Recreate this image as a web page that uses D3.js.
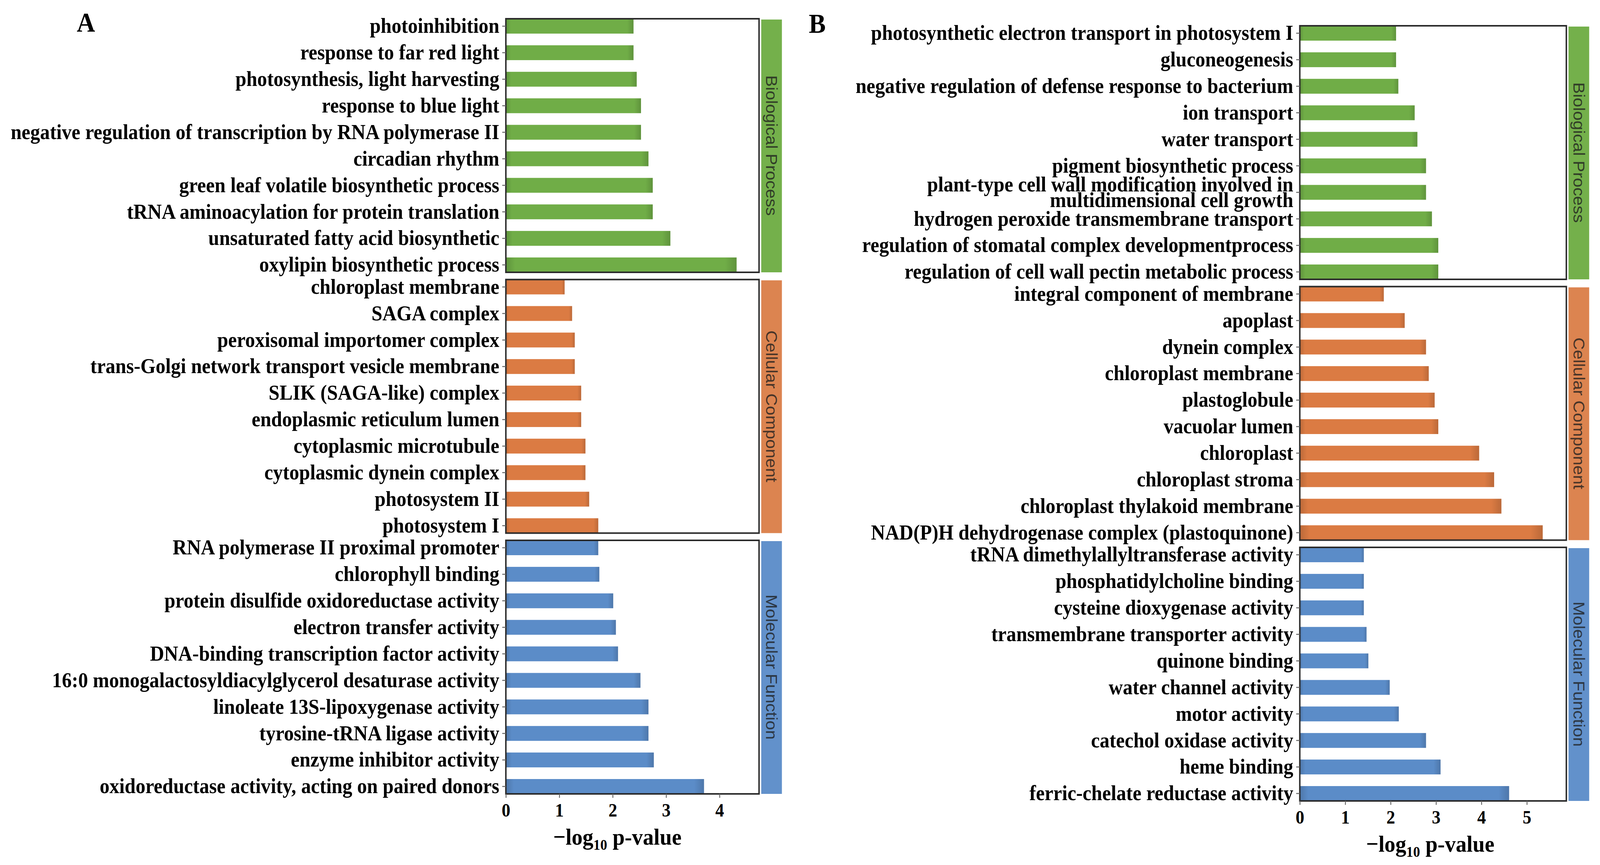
<!DOCTYPE html>
<html>
<head>
<meta charset="utf-8">
<script src="https://cdn.jsdelivr.net/npm/d3@7"></script>
<style>
  html, body { margin: 0; padding: 0; background: #fff; overflow: hidden; }
  #chart svg { display: block; width: 100vw; height: 100vh; }
  svg text { font-family: "Liberation Serif", "Times New Roman", serif; font-weight: bold; }
</style>
</head>
<body>
<div id="chart"></div>
<script>
// ---- data, panel A ----
const aBPTerms = ["photoinhibition", "response to far red light", "photosynthesis, light harvesting",
  "response to blue light", "negative regulation of transcription by RNA polymerase II", "circadian rhythm",
  "green leaf volatile biosynthetic process", "tRNA aminoacylation for protein translation",
  "unsaturated fatty acid biosynthetic", "oxylipin biosynthetic process"];
const aBPValues = [2.39, 2.39, 2.45, 2.53, 2.53, 2.67, 2.75, 2.75, 3.08, 4.32];

const aCCTerms = ["chloroplast membrane", "SAGA complex", "peroxisomal importomer complex",
  "trans-Golgi network transport vesicle membrane", "SLIK (SAGA-like) complex", "endoplasmic reticulum lumen",
  "cytoplasmic microtubule", "cytoplasmic dynein complex", "photosystem II", "photosystem I"];
const aCCValues = [1.10, 1.24, 1.29, 1.29, 1.41, 1.41, 1.49, 1.49, 1.56, 1.73];

const aMFTerms = ["RNA polymerase II proximal promoter", "chlorophyll binding", "protein disulfide oxidoreductase activity",
  "electron transfer activity", "DNA-binding transcription factor activity",
  "16:0 monogalactosyldiacylglycerol desaturase activity", "linoleate 13S-lipoxygenase activity",
  "tyrosine-tRNA ligase activity", "enzyme inhibitor activity", "oxidoreductase activity, acting on paired donors"];
const aMFValues = [1.73, 1.75, 2.01, 2.06, 2.10, 2.52, 2.67, 2.67, 2.77, 3.71];

// ---- data, panel B ----
const bBPTerms = ["photosynthetic electron transport in photosystem I", "gluconeogenesis",
  "negative regulation of defense response to bacterium", "ion transport", "water transport",
  "pigment biosynthetic process", "plant-type cell wall modification involved in\nmultidimensional cell growth",
  "hydrogen peroxide transmembrane transport", "regulation of stomatal complex developmentprocess",
  "regulation of cell wall pectin metabolic process"];
const bBPValues = [2.12, 2.12, 2.17, 2.53, 2.59, 2.78, 2.78, 2.91, 3.05, 3.05];

const bCCTerms = ["integral component of membrane", "apoplast", "dynein complex", "chloroplast membrane",
  "plastoglobule", "vacuolar lumen", "chloroplast", "chloroplast stroma", "chloroplast thylakoid membrane",
  "NAD(P)H dehydrogenase complex (plastoquinone)"];
const bCCValues = [1.85, 2.31, 2.78, 2.84, 2.97, 3.05, 3.95, 4.28, 4.44, 5.35];

const bMFTerms = ["tRNA dimethylallyltransferase activity", "phosphatidylcholine binding",
  "cysteine dioxygenase activity", "transmembrane transporter activity", "quinone binding",
  "water channel activity", "motor activity", "catechol oxidase activity", "heme binding",
  "ferric-chelate reductase activity"];
const bMFValues = [1.41, 1.41, 1.41, 1.47, 1.51, 1.98, 2.18, 2.78, 3.10, 4.61];

const ontologyNames = ["Biological Process", "Cellular Component", "Molecular Function"];
const aTicks = [0, 1, 2, 3, 4];
const bTicks = [0, 1, 2, 3, 4, 5];

// colours for the three ontologies (bars and strips)
const barColors = ["#70ad47", "#db7b43", "#5b8cc8"];
const stripColors = ["#74b04b", "#dc8450", "#6291cb"];

const W = 4411, H = 2214;
const facetH = 649, facetGap = 18.5;

// viewBox so the drawing always fills the window whatever its css size
const svg = d3.select("#chart").append("svg")
  .attr("viewBox", `0 0 ${W} ${H}`)
  .attr("preserveAspectRatio", "none")
  .style("background", "#fff");

// soft darker ends on the bars, like the original export
const defs = svg.append("defs");
barColors.forEach((c, i) => {
  const dark = d3.color(c).darker(0.45);
  const grad = defs.append("linearGradient").attr("id", "barGrad" + i)
    .attr("x1", 0).attr("x2", 1).attr("y1", 0).attr("y2", 0);
  grad.append("stop").attr("offset", "0%").attr("stop-color", dark);
  grad.append("stop").attr("offset", "4%").attr("stop-color", c);
  grad.append("stop").attr("offset", "95%").attr("stop-color", c);
  grad.append("stop").attr("offset", "100%").attr("stop-color", dark);
});

function drawPanel(p) {
  const g = svg.append("g");
  const x = d3.scaleLinear().domain([0, p.xMax]).range([p.left, p.right]);
  let bottom = 0;

  p.facets.forEach((f, i) => {
    const top = p.top + i * (facetH + facetGap);
    bottom = top + facetH;
    const y = d3.scaleBand().domain(f.terms).range([top, bottom])
      .paddingInner(0.44).paddingOuter(0);
    const rows = f.terms.map((t, j) => ({ term: t, value: f.values[j] }));

    g.append("g").selectAll("rect")
      .data(rows)
      .join("rect")
      .attr("x", x(0))
      .attr("y", d => y(d.term))
      .attr("width", d => x(d.value) - x(0))
      .attr("height", y.bandwidth())
      .attr("fill", `url(#barGrad${i})`);

    // panel frame
    g.append("rect")
      .attr("x", p.left).attr("y", top)
      .attr("width", p.right - p.left).attr("height", facetH)
      .attr("fill", "none").attr("stroke", "#2b2b2b").attr("stroke-width", 4);

    // category labels
    const ax = g.append("g")
      .attr("transform", `translate(${p.left},0)`)
      .call(d3.axisLeft(y).tickSize(10).tickPadding(8));
    ax.select(".domain").remove();
    ax.attr("font-size", 54).attr("font-family", null);
    ax.selectAll(".tick line").attr("stroke", "#666").attr("stroke-width", 2.5);
    ax.selectAll(".tick text").attr("fill", "#000").each(function (d) {
      const lines = d.split("\n");
      if (lines.length < 2) return;
      const t = d3.select(this);
      const tx = t.attr("x");
      t.text(null).attr("dy", null);
      lines.forEach((ln, k) => {
        t.append("tspan").attr("x", tx)
          .attr("dy", k === 0 ? (0.32 - (lines.length - 1) * 0.37) + "em" : "0.74em")
          .text(ln);
      });
    });

    // side strip with ontology name
    const sx = p.right + 6, sw = 57;
    g.append("rect")
      .attr("x", sx).attr("y", top + 2)
      .attr("width", sw).attr("height", facetH - 2)
      .attr("fill", stripColors[i]);
    g.append("text")
      .attr("transform", `translate(${sx + sw / 2},${top + facetH / 2}) rotate(90)`)
      .attr("text-anchor", "middle")
      .attr("dy", "0.35em")
      .style("font-family", "'Liberation Sans', Arial, sans-serif")
      .style("font-weight", "normal")
      .style("font-size", "44px")
      .attr("fill", "#1e1e1e")
      .attr("fill-opacity", 0.8)
      .text(ontologyNames[i]);
  });

  // value axis
  const xa = g.append("g")
    .attr("transform", `translate(0,${bottom})`)
    .call(d3.axisBottom(x).tickValues(p.ticks).tickFormat(d3.format("d")).tickSize(10).tickPadding(14));
  xa.select(".domain").remove();
  xa.attr("font-size", 48).attr("font-family", null);
  xa.selectAll(".tick line").attr("stroke", "#666").attr("stroke-width", 2.5);
  xa.selectAll(".tick text").attr("fill", "#000");

  const title = g.append("text")
    .attr("x", p.titleX).attr("y", bottom + 130)
    .attr("text-anchor", "middle")
    .style("font-size", "60px");
  title.append("tspan").text("\u2212log");
  title.append("tspan").attr("dy", 13).style("font-size", "38px").text("10");
  title.append("tspan").attr("dy", -13).text(" p-value");

  svg.append("text")
    .attr("x", p.letterX).attr("y", p.letterY)
    .attr("text-anchor", "middle")
    .style("font-size", "70px")
    .text(p.letter);
}

drawPanel({
  letter: "A", letterX: 237, letterY: 81,
  left: 1394.6, right: 2092.6, top: 48, xMax: 4.74, ticks: aTicks, titleX: 1702,
  facets: [
    { terms: aBPTerms, values: aBPValues },
    { terms: aCCTerms, values: aCCValues },
    { terms: aMFTerms, values: aMFValues }
  ]
});

drawPanel({
  letter: "B", letterX: 2253, letterY: 84,
  left: 3583.4, right: 4318.2, top: 66, xMax: 5.87, ticks: bTicks, titleX: 3943,
  facets: [
    { terms: bBPTerms, values: bBPValues },
    { terms: bCCTerms, values: bCCValues },
    { terms: bMFTerms, values: bMFValues }
  ]
});
</script>
</body>
</html>
